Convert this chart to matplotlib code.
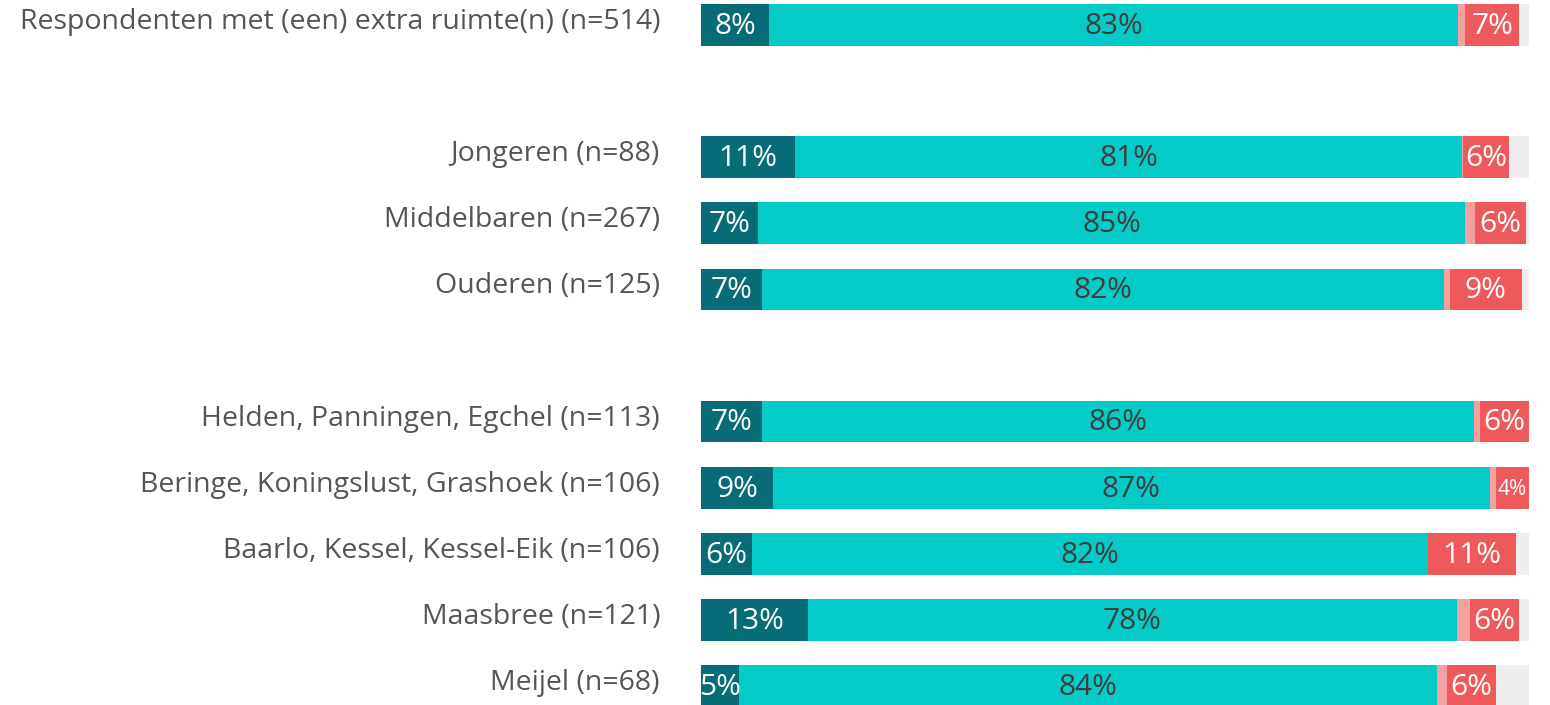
import matplotlib
matplotlib.use("Agg")
import matplotlib.pyplot as plt

categories = [
    "Respondenten met (een) extra ruimte(n) (n=514)",
    "Jongeren (n=88)",
    "Middelbaren (n=267)",
    "Ouderen (n=125)",
    "Helden, Panningen, Egchel (n=113)",
    "Beringe, Koningslust, Grashoek (n=106)",
    "Baarlo, Kessel, Kessel-Eik (n=106)",
    "Maasbree (n=121)",
    "Meijel (n=68)",
]
slots = [0, 2, 3, 4, 6, 7, 8, 9, 10]

dark_vals = [8.2, 11.4, 6.9, 7.4, 7.4, 8.7, 6.2, 12.9, 4.6]
cyan_vals = [83.3, 80.6, 85.4, 82.4, 86.0, 86.6, 81.7, 78.4, 84.4]
pink_vals = [0.8, 0.1, 1.2, 0.7, 0.7, 0.8, 0.0, 1.6, 1.1]
red_vals = [6.6, 5.6, 6.2, 8.7, 5.9, 3.9, 10.6, 6.0, 6.0]
gray_vals = [1.1, 2.3, 0.3, 0.8, 0.0, 0.0, 1.5, 1.1, 3.9]

series = [
    (dark_vals, "#076c77", "white", True),
    (cyan_vals, "#05cbc8", "#3d3d3d", True),
    (pink_vals, "#f4a09f", "white", False),
    (red_vals, "#ee5a5c", "white", True),
    (gray_vals, "#eeeeee", "white", False),
]

plt.rcParams['font.family'] = ['Open Sans', 'DejaVu Sans']

fig = plt.figure(figsize=(15.5, 7.05), dpi=100)
ax = fig.add_axes([701 / 1550, 0, (1528.5 - 701) / 1550, 1])

left = [0.0] * len(categories)
for vals, color, tcolor, show in series:
    ax.barh(slots, vals, left=left, height=0.63, color=color, edgecolor='none')
    if show:
        for y, l, v in zip(slots, left, vals):
            if v <= 0:
                continue
            fs = 21.5
            if v < 4.5 and color == "#ee5a5c":
                fs = 15
            ax.text(l + v / 2, y + 0.02, f"{v:.0f}%", ha='center', va='center',
                    color=tcolor, fontsize=fs, clip_on=False)
    left = [a + b for a, b in zip(left, vals)]

ax.set_xlim(0, 100)
ax.set_ylim(10 + 19 / 66.1, -25 / 66.1)
ax.axis('off')

for y, cat in zip(slots, categories):
    ax.annotate(cat, xy=(0, y), xycoords='data', xytext=(-41, 3),
                textcoords='offset pixels', ha='right', va='center',
                fontsize=20.5, color='#555555')

fig.savefig("out.png", dpi=100)
